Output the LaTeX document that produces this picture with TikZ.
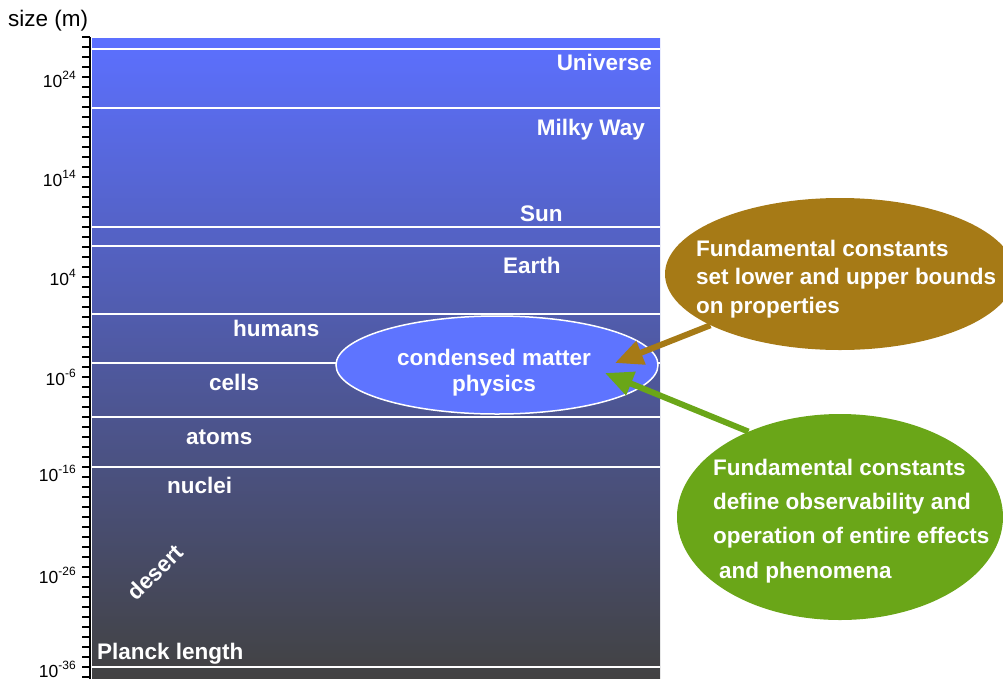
\documentclass[tikz,border=0pt]{standalone}
\usepackage{fontspec}
\setmainfont{Liberation Sans}
\usepackage{tikz}
\usetikzlibrary{positioning,shapes,arrows.meta}
\definecolor{skytop}{RGB}{92,112,255}
\definecolor{skybottom}{RGB}{66,66,66}
\definecolor{cmblue}{RGB}{94,116,255}
\definecolor{boundsbrown}{RGB}{166,122,22}
\definecolor{observgreen}{RGB}{106,166,24}
\tikzset{
  scaleline/.style={draw=white,line width=2pt},
  band/.style={text=white,font=\fontsize{22.5}{27}\selectfont\bfseries,inner sep=0pt,anchor=base west},
  power/.style={font=\fontsize{17.5}{20}\selectfont,inner sep=0pt,anchor=base east},
  bubble/.style={ellipse,inner sep=0pt},
  bubbletext/.style={text=white,align=left,inner sep=0pt,anchor=west},
  brownpath/.style={draw=boundsbrown,line width=6pt,-{Triangle[length=28pt,width=24pt,fill=boundsbrown]}},
  greenpath/.style={draw=observgreen,line width=6pt,-{Triangle[length=28pt,width=24pt,fill=observgreen]}}
}
\newcommand{\tenpow}[1]{10\raisebox{8pt}{\fontsize{12}{12}\selectfont #1}}

\begin{document}
\begin{tikzpicture}[x=1pt,y=-1pt]
                \useasboundingbox (0,0) rectangle (1003,686);
                \clip (0,0) rectangle (1003,686);

                \shade[top color=skytop,bottom color=skybottom] (92,38) rectangle (660,678);
                \foreach \yy in {49,108,227,246,314,363,417,467,667}
                        \draw[scaleline] (92,\yy) -- (660,\yy);

                % size axis
                \draw[line width=2.5pt] (90,37) -- (90,679);
                \foreach \k in {0,...,64}
                        \draw[line width=1.5pt] (82,{677-10*\k}) -- (90,{677-10*\k});
                \node[anchor=base west,font=\fontsize{22.5}{27}\selectfont,inner sep=0pt] (sizelabel) at (8,26) {size (m)};
                \foreach \e/\yy in {24/87,14/186,4/285,-6/385,-16/481,-26/583,-36/677}
                        \node[power] (pow\e) at (76,\yy) {\tenpow{\e}};

                \node[band,anchor=base east] (universe) at (652,70) {Universe};
                \node[band,anchor=base east] (milkyway) at (645,135) {Milky Way};
                \node[band] (sun) at (520,221) {Sun};
                \node[band] (earth) at (503,273) {Earth};
                \node[band] (humans) at (233,336) {humans};
                \node[band] (cells) at (209,390) {cells};
                \node[band] (atoms) at (186,444) {atoms};
                \node[band] (nuclei) at (167,493) {nuclei};
                \node[band,anchor=center,rotate=45] (desert) at (155,572) {desert};
                \node[band] (planck) at (97,659) {Planck length};

                \node[bubble,draw=white,line width=1.5pt,fill=cmblue,minimum width=322pt,minimum height=98pt] (cm) at (497,365) {};
                \node[bubbletext,anchor=center,align=center,font=\fontsize{22.5}{26}\selectfont\bfseries] (cmtext) at (494,373) {condensed matter\\physics};

                \node[bubble,fill=boundsbrown,minimum width=350pt,minimum height=152pt] (bounds) at (840,274) {};
                \node[bubbletext,font=\fontsize{22.5}{28.5}\selectfont\bfseries] (boundstext) at (696,279) {Fundamental constants\\set lower and upper bounds\\on properties};

                \node[bubble,fill=observgreen,minimum width=326pt,minimum height=206pt] (observ) at (840,517) {};
                \node[bubbletext,font=\fontsize{22.5}{34.3}\selectfont\bfseries] (observtext) at (713,521) {Fundamental constants\\define observability and\\operation of entire effects\\\hspace*{6pt}and phenomena};

                \coordinate (cmtipa) at (615,363);
                \coordinate (cmtipb) at (605,373);
                \draw[brownpath] (bounds) -- (cmtipa);
                \draw[greenpath] (observ.137) -- (cmtipb);
\end{tikzpicture}
\end{document}
